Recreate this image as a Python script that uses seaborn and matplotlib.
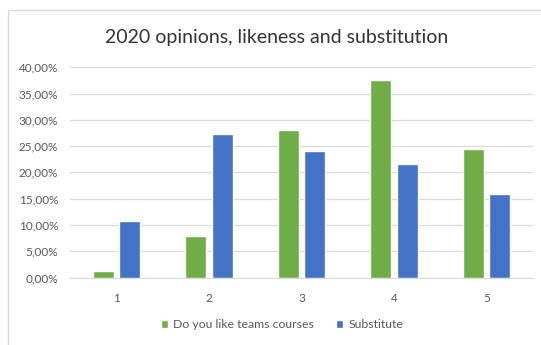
import pandas as pd
import numpy as np
import matplotlib.pyplot as plt
import seaborn as sns
from matplotlib.lines import Line2D
from matplotlib.ticker import FuncFormatter

sns.set_style('white')
plt.rcParams['font.family'] = ['Lato', 'DejaVu Sans']

# data (percent)
categories = ['1', '2', '3', '4', '5']
like_teams = [1.3, 7.9, 28.1, 37.5, 24.4]
substitute = [10.7, 27.3, 24.0, 21.6, 15.8]
series_names = ['Do you like teams courses', 'Substitute']

df = pd.DataFrame({
    'answer': categories * 2,
    'share': like_teams + substitute,
    'series': [series_names[0]] * 5 + [series_names[1]] * 5,
})

W, H = 541, 345
fig = plt.figure(figsize=(W / 100, H / 100), dpi=100)
ax = fig.add_axes([70 / W, (H - 277.5) / H, (533 - 70) / W, (277.5 - 67.3) / H])

sns.barplot(data=df, x='answer', y='share', hue='series', ax=ax,
            palette=['#70AD47', '#4472C4'], width=0.57, gap=0.2,
            saturation=1, legend=True)

ax.set_ylim(0, 40)
ax.set_yticks(np.arange(0, 41, 5))
ax.yaxis.set_major_formatter(FuncFormatter(lambda v, p: f'{v:.2f}%'.replace('.', ',')))
ax.grid(axis='y', color='#D9D9D9', linewidth=0.9)
ax.set_axisbelow(True)
for s in ['top', 'right', 'left']:
    ax.spines[s].set_visible(False)
ax.spines['bottom'].set_color('#D9D9D9')
ax.tick_params(axis='both', length=0, labelsize=8.5, colors='#595959')
ax.tick_params(axis='y', pad=8.5)
ax.tick_params(axis='x', pad=11)
ax.set_xlabel('')
ax.set_ylabel('')
ax.set_xlim(-0.5, 4.5)

ax.legend(loc='center', bbox_to_anchor=(282 / W, (H - 325) / H),
          bbox_transform=fig.transFigure, ncol=2, frameon=False,
          fontsize=8.8, handlelength=0.6, handleheight=0.6,
          handletextpad=0.4, columnspacing=1.8, labelcolor='#595959')

fig.text(277 / W, (H - 37) / H, '2020 opinions, likeness and substitution',
         ha='center', va='center', fontsize=14, color='#333333')

# chart area border (left and top only visible in the crop)
fig.add_artist(Line2D([7.5 / W, 7.5 / W], [0, (H - 9.5) / H], color='#D9D9D9', lw=1))
fig.add_artist(Line2D([7.5 / W, 1], [(H - 9.5) / H, (H - 9.5) / H], color='#D9D9D9', lw=1))

fig.savefig('out.png', dpi=100)
